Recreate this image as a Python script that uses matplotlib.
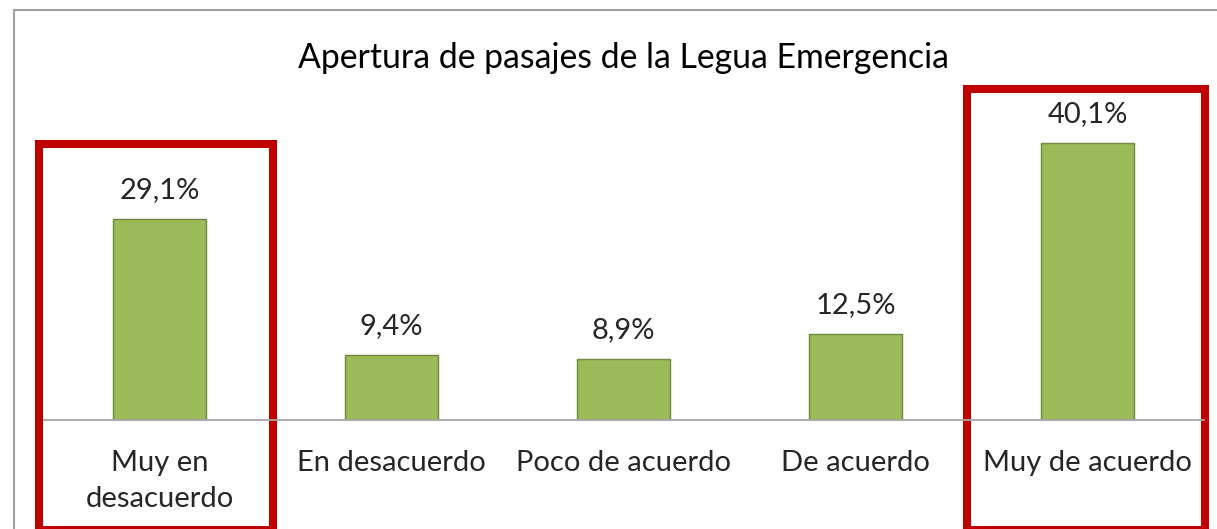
import matplotlib.pyplot as plt
from matplotlib.patches import Rectangle

# data
categories = ["Muy en\ndesacuerdo", "En desacuerdo", "Poco de acuerdo", "De acuerdo", "Muy de acuerdo"]
values = [29.1, 9.4, 8.9, 12.5, 40.1]
labels = ["29,1%", "9,4%", "8,9%", "12,5%", "40,1%"]
title = "Apertura de pasajes de la Legua Emergencia"

plt.rcParams['font.family'] = ['Lato', 'DejaVu Sans']

W, H = 1217, 529
fig = plt.figure(figsize=(W / 100, H / 100), dpi=100)

# axes placed in pixels: x from 43.5 to 1203.5, baseline at y=420 from top
ax = fig.add_axes([43.5 / W, (H - 420) / H, 1160 / W, 345.5 / H])
ax.set_xlim(-0.5, 4.5)
ax.set_ylim(0, 50)

x = range(len(categories))
ax.bar(x, values, width=0.4, color="#9BBB59", edgecolor="#71893F", linewidth=1)

for xi, v, lab in zip(x, values, labels):
    ax.text(xi, v + 2.3, lab, ha="center", va="bottom", fontsize=21, color="#262626")

for xi, cat in zip(x, categories):
    ax.text(xi, -4.3, cat, ha="center", va="top", fontsize=21, color="#262626",
            linespacing=1.5)

for s in ["top", "left", "right"]:
    ax.spines[s].set_visible(False)
ax.spines["bottom"].set_color("#A6A6A6")
ax.spines["bottom"].set_linewidth(1.3)
ax.set_xticks([])
ax.set_yticks([])

# red highlight boxes around the first and last category
ax.add_patch(Rectangle((-0.52, -15.9), 1.01, 55.8, fill=False, edgecolor="#C00000",
                       linewidth=5.8, clip_on=False))
ax.add_patch(Rectangle((3.48, -15.9), 1.026, 63.8, fill=False, edgecolor="#C00000",
                       linewidth=5.8, clip_on=False))

# outer chart border (gray), partly outside the picture
fig.add_artist(Rectangle((14 / W, -0.1), 1.2, (H - 10) / H + 0.1, fill=False,
                         edgecolor="#A0A0A0", linewidth=1.5,
                         transform=fig.transFigure))

fig.text(624 / W, (H - 58) / H, title, ha="center", va="center", fontsize=24.3, color="black")

fig.savefig("out.png", dpi=100)
